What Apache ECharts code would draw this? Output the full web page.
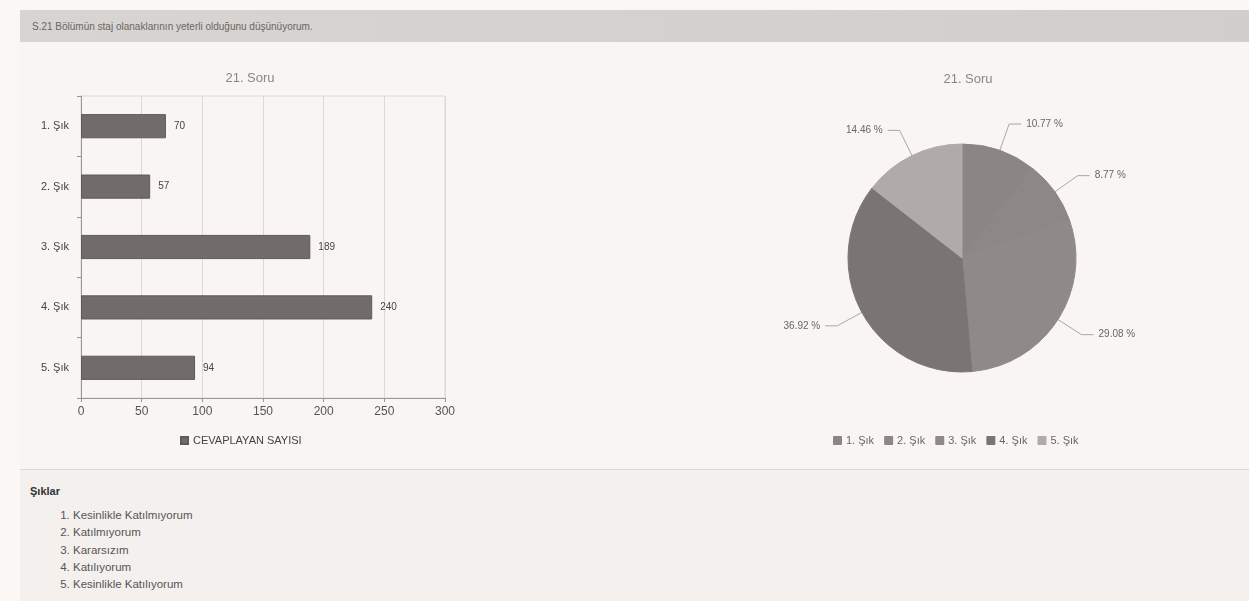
<!DOCTYPE html>
<html>
<head>
<meta charset="utf-8">
<script src="https://cdn.jsdelivr.net/npm/echarts@6/dist/echarts.min.js"></script>
<style>
  html, body { margin: 0; padding: 0; width: 1249px; height: 601px; overflow: hidden; background: #faf7f4; font-family: "Liberation Sans", Arial, sans-serif; }
  #header { position: absolute; left: 20px; top: 10px; width: 1229px; height: 32px; background: linear-gradient(to right, #d8d4d1, #d2cecb); }
  #header span { position: absolute; left: 12px; top: 11px; font-size: 10px; color: #6a6664; }
  #panel { position: absolute; left: 20px; top: 42px; width: 1229px; height: 427px; background: #f9f5f2; border-bottom: 1px solid #dcd8d5; }
  #bottom { position: absolute; left: 20px; top: 470px; width: 1229px; height: 131px; background: #f4f0ed; }
  #bottom .h { position: absolute; left: 10px; top: 15px; font-size: 11px; font-weight: bold; color: #333; }
  #bottom ol { position: absolute; left: 16px; top: 37px; margin: 0; padding-left: 37px; font-size: 11.5px; color: #555; line-height: 17.3px; }
  #chart { position: absolute; left: 0; top: 0; width: 1249px; height: 601px; }
</style>
</head>
<body>
<div id="header"><span>S.21 Bölümün staj olanaklarının yeterli olduğunu düşünüyorum.</span></div>
<div id="panel"></div>
<div id="bottom">
  <div class="h">Şıklar</div>
  <ol>
    <li>Kesinlikle Katılmıyorum</li>
    <li>Katılmıyorum</li>
    <li>Kararsızım</li>
    <li>Katılıyorum</li>
    <li>Kesinlikle Katılıyorum</li>
  </ol>
</div>
<div id="chart"></div>
<script>
const categories = ['1. Şık', '2. Şık', '3. Şık', '4. Şık', '5. Şık'];
const counts = [70, 57, 189, 240, 94];
const seriesName = 'CEVAPLAYAN SAYISI';
const chartTitle = '21. Soru';
const xTicks = [0, 50, 100, 150, 200, 250, 300];

const pieColors = ['#8b8684', '#8d8886', '#8f8a88', '#7a7573', '#b0aba8'];

const chart = echarts.init(document.getElementById('chart'), null, { renderer: 'canvas' });
chart.setOption({
  backgroundColor: 'transparent',
  animation: false,
  textStyle: { fontFamily: 'Liberation Sans, Arial, sans-serif' },
  title: [
    { text: chartTitle, left: 245, top: 67, textAlign: 'center', textStyle: { fontSize: 13, fontWeight: 'normal', color: '#8a8684' } },
    { text: chartTitle, left: 963, top: 68, textAlign: 'center', textStyle: { fontSize: 13, fontWeight: 'normal', color: '#8a8684' } }
  ],
  legend: [
    { data: [seriesName], left: 175, top: 430, itemWidth: 7, itemHeight: 7, icon: 'rect', itemGap: 8,
      textStyle: { fontSize: 11, color: '#444' } },
    { data: categories, left: 828, top: 430, itemWidth: 7, itemHeight: 7, icon: 'rect', itemGap: 10,
      textStyle: { fontSize: 11, color: '#6a6664' } }
  ],
  grid: { left: 81, right: 804, top: 96, bottom: 203, show: true, borderColor: '#dedad7', borderWidth: 1, backgroundColor: 'transparent' },
  xAxis: {
    type: 'value', min: xTicks[0], max: xTicks[xTicks.length - 1], interval: 50,
    axisLine: { show: true, lineStyle: { color: '#9a9694' } },
    axisTick: { show: true, length: 4, lineStyle: { color: '#9a9694' } },
    axisLabel: { fontSize: 12, color: '#555', margin: 8 },
    splitLine: { show: true, lineStyle: { color: '#dcd8d5' } }
  },
  yAxis: {
    type: 'category', data: categories, inverse: true,
    axisLine: { show: true, lineStyle: { color: '#9a9694' } },
    axisTick: { show: true, length: 4, lineStyle: { color: '#9a9694' } },
    axisLabel: { fontSize: 11, color: '#444', margin: 12 },
    splitLine: { show: false }
  },
  series: [
    {
      name: seriesName, type: 'bar', data: counts, barWidth: '40%',
      itemStyle: { color: '#716c6a', borderColor: '#5e5a58', borderWidth: 1 },
      label: { show: true, position: 'right', distance: 8, fontSize: 10, color: '#444' }
    },
    {
      name: 'pie', type: 'pie', center: [962, 258], radius: 114, startAngle: 90, clockwise: true,
      data: categories.map((c, i) => ({ name: c, value: counts[i], itemStyle: { color: pieColors[i], borderColor: pieColors[i], borderWidth: 1 } })),
      label: { show: true, formatter: '{d} %', fontSize: 10, color: '#6a6664' },
      labelLine: { show: true, length: 28, length2: 12, lineStyle: { color: '#aaa6a3', width: 1 } },
      emphasis: { disabled: true }
    }
  ]
});
</script>
</body>
</html>
